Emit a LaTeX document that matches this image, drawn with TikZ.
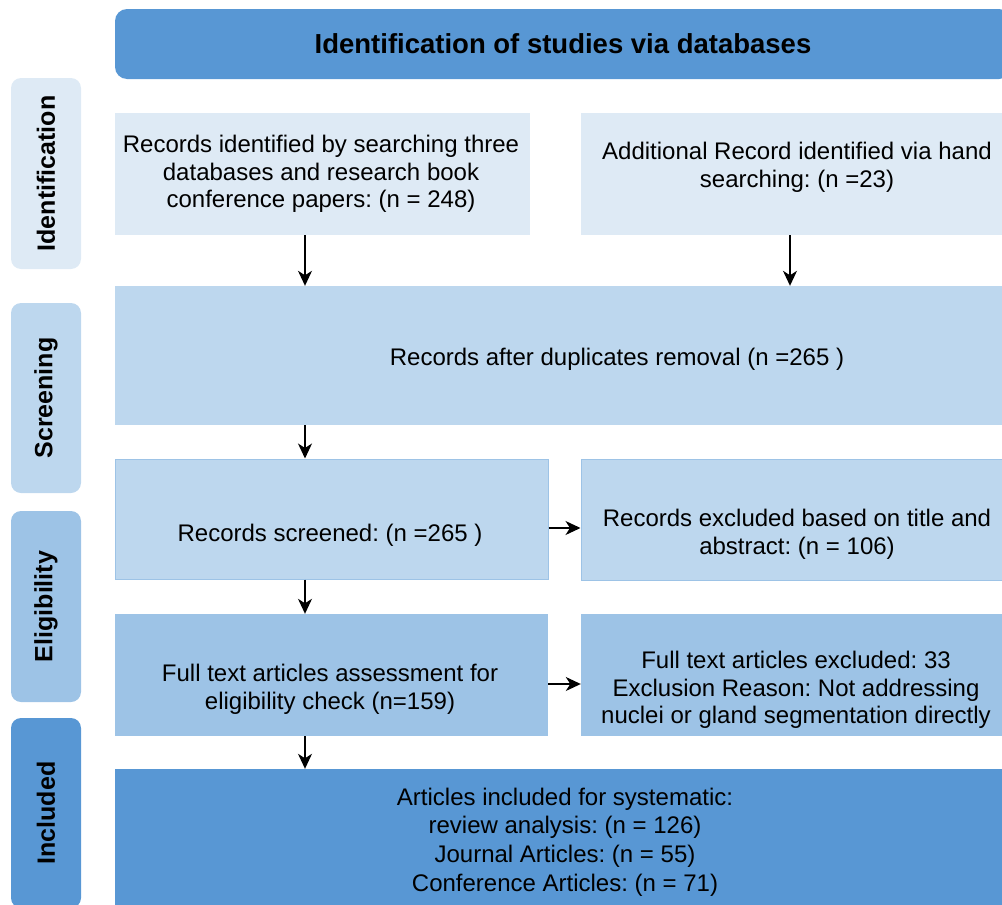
\documentclass[tikz,border=0pt]{standalone}
\usepackage{fontspec}
\setmainfont{Liberation Sans}
\usetikzlibrary{arrows.meta}
\definecolor{headblue}{HTML}{5897D4}
\definecolor{paleblue}{HTML}{DEEAF5}
\definecolor{midblue}{HTML}{BDD7EE}
\definecolor{stepblue}{HTML}{9DC3E6}
\frenchspacing
\begin{document}
\begin{tikzpicture}[x=1pt,y=-1pt,
    box/.style={rectangle,inner sep=0pt},
    txt/.style={align=center,inner sep=0pt,font=\fontsize{24}{27.6}\selectfont},
    side/.style={rectangle,rounded corners=10pt,inner sep=0pt,minimum height=70pt,
      rotate=90,font=\bfseries\fontsize{25}{30}\selectfont},
    flow/.style={-{Stealth[length=15pt,width=14pt,inset=4.5pt]},line width=1.3pt}]
  \useasboundingbox (0,0) rectangle (1002,905);
  % header
  \node[box,rounded corners=12pt,fill=headblue,minimum width=896pt,minimum height=70pt,
    font=\bfseries\fontsize{27.5}{32}\selectfont] (head) at (563,44)
    {Identification of studies via databases};
  % side labels
  \node[side,fill=paleblue,minimum width=191pt] (idf) at (46,173.5) {Identification};
  \node[side,fill=midblue,minimum width=190pt] (scr) at (46,398) {Screening};
  \node[side,fill=stepblue,minimum width=191pt] (elg) at (46,606.5) {Eligibility};
  \node[side,fill=headblue,minimum width=190pt] (inc) at (46,813) {Included};
  % boxes
  \node[box,fill=paleblue,minimum width=415pt,minimum height=122pt] (recA) at (322.5,174) {};
  \node[box,fill=paleblue,minimum width=421pt,minimum height=122pt] (recB) at (791.5,174) {};
  \node[box,fill=midblue,minimum width=1004pt,minimum height=139pt] (dup) at (617,355.5) {};
  \node[box,fill=midblue,draw=stepblue,line width=1pt,minimum width=433pt,minimum height=120pt] (scrd) at (331.5,519) {};
  \node[box,fill=midblue,draw=stepblue,line width=1pt,minimum width=440pt,minimum height=121pt] (exA) at (801,519.5) {};
  \node[box,fill=stepblue,minimum width=433pt,minimum height=122pt] (full) at (331.5,675) {};
  \node[box,fill=stepblue,minimum width=440pt,minimum height=122pt] (exB) at (801,675) {};
  \node[box,fill=headblue,minimum width=900pt,minimum height=146pt] (art) at (565,842) {};
  % texts
  \node[txt] (recAtxt) at (321,174) {Records identified by searching three\\databases and research book\\conference papers: (n = 248)};
  \node[txt] (recBtxt) at (797,167) {Additional Record identified via hand\\searching: (n =23)};
  \node[txt] (duptxt) at (617,359) {Records after duplicates removal (n =265 )};
  \node[txt] (scrdtxt) at (330,535) {Records screened: (n =265 )};
  \node[txt] (exAtxt) at (797,534) {Records excluded based on title and\\abstract: (n = 106)};
  \node[txt] (fulltxt) at (330,689) {Full text articles assessment for\\eligibility check (n=159)};
  \node[txt] (exBtxt) at (796,690) {Full text articles excluded: 33\\ Exclusion Reason: Not addressing\\nuclei or gland segmentation directly};
  \node[txt,font=\fontsize{24}{28.7}\selectfont] (arttxt) at (565,842) {Articles included for systematic:\\review analysis: (n = 126)\\ Journal Articles: (n = 55)\\Conference Articles: (n = 71)};
  % arrows
  \coordinate (lx) at (305,0);
  \coordinate (rx) at (790,0);
  \coordinate (r1) at (0,528);
  \coordinate (r2) at (0,684);
  \begin{scope}[flow]
    \draw (recA.south -| lx) to (dup.north -| lx);
    \draw (recB.south -| rx) to (dup.north -| rx);
    \draw (dup.south -| lx) to (scrd.north -| lx);
    \draw (scrd.east |- r1) to (exA.west |- r1);
    \draw (scrd.south -| lx) to (full.north -| lx);
    \draw (full.east |- r2) to (exB.west |- r2);
    \draw (full.south -| lx) to (art.north -| lx);
  \end{scope}
\end{tikzpicture}
\end{document}
